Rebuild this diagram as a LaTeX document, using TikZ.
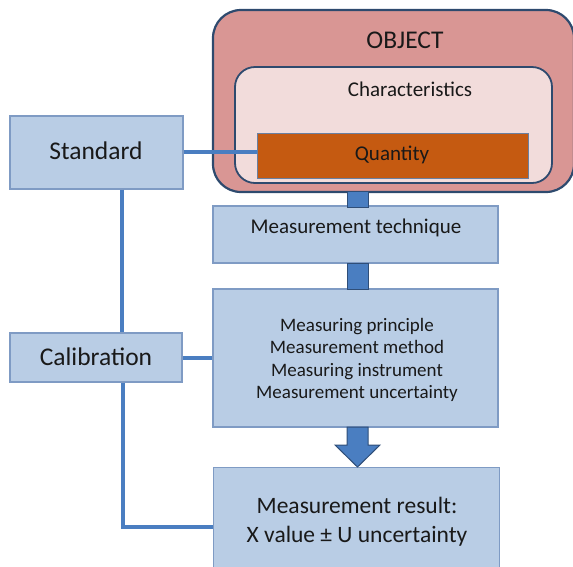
\documentclass[tikz,border=0pt]{standalone}
\usepackage{fontspec}
\setmainfont{Carlito}
\begin{document}
\begin{tikzpicture}[x=1pt,y=-1pt,
  box/.style={draw=boxedge,fill=boxfill,line width=1.2pt,inner sep=0pt},
  conn/.style={draw=connblue,line width=4pt},
  pipe/.style={draw=pipeedge,fill=connblue,line width=1pt},
  lbl/.style={inner sep=0pt,text=black!90,align=center}]
\definecolor{boxfill}{HTML}{B9CDE5}
\definecolor{boxedge}{HTML}{7F9BC4}
\definecolor{connblue}{HTML}{4A7EC1}
\definecolor{pipeedge}{HTML}{2F4E78}
\definecolor{objfill}{HTML}{D99694}
\definecolor{objedge}{HTML}{2E4A6E}
\definecolor{charfill}{HTML}{F2DCDB}
\definecolor{qfill}{HTML}{C55A11}
\definecolor{qedge}{HTML}{6A7FA0}
\useasboundingbox (0,0) rectangle (573,566);
\clip (0,0) rectangle (573,566);
% object
\draw[fill=objfill,draw=objedge,line width=2.2pt,rounded corners=28pt] (213,10) rectangle (574,192);
\node[lbl,font=\fontsize{25.5}{28}\selectfont] (obj) at (405,40) {OBJECT};
\draw[fill=charfill,draw=objedge,line width=1.8pt,rounded corners=20pt] (235,67) rectangle (552,183);
\node[lbl,font=\fontsize{21}{24}\selectfont] (char) at (410,89) {Characteristics};
\node[draw=qedge,fill=qfill,line width=0.8pt,minimum width=271pt,minimum height=45pt,inner sep=0pt] (qty) at (392.5,155.5) {};
\node[lbl,font=\fontsize{21}{24}\selectfont] at (392,155) {Quantity};
% left boxes
\node[box,minimum width=173pt,minimum height=73pt] (std) at (96.5,152.5) {};
\node[lbl,font=\fontsize{25.5}{28}\selectfont] at (96,151) {Standard};
\node[box,minimum width=172pt,minimum height=49pt] (cal) at (96,357.5) {};
\node[lbl,font=\fontsize{25.5}{28}\selectfont] at (96,356.5) {Calibration};
% centre column
\node[box,minimum width=285pt,minimum height=57pt] (tech) at (355.5,234.5) {};
\node[lbl,font=\fontsize{21}{24}\selectfont] at (356,228) {Measurement technique};
\node[box,minimum width=285pt,minimum height=138pt] (meth) at (355.5,358) {};
\node[lbl,font=\fontsize{19}{22.5}\selectfont] at (357,360) {Measuring principle\\Measurement method\\Measuring instrument\\Measurement uncertainty};
\node[box,minimum width=286pt,minimum height=130pt,anchor=north west] (res) at (213,467) {};
\node[lbl,font=\fontsize{23.5}{29}\selectfont] at (357,521.5) {Measurement result:\\X value \char"00B1{} U uncertainty};
% pipes
\draw[pipe] (347,191) rectangle (368,207);
\draw[pipe] (347,263) rectangle (368,289);
\draw[pipe] (347,427) -- (347,445) -- (335,445) -- (357.5,467) -- (380,445) -- (368,445) -- (368,427) -- cycle;
% connectors
\draw[conn] (std.east |- 0,152) -- (qty.west |- 0,152);
\draw[conn] (std.south -| 122,0) -- (cal.north -| 122,0);
\draw[conn] (cal.east |- 0,358) -- (meth.west |- 0,358);
\draw[conn] (cal.south -| 123,0) -- (123,527) -- (res.west |- 0,527);
\end{tikzpicture}
\end{document}
